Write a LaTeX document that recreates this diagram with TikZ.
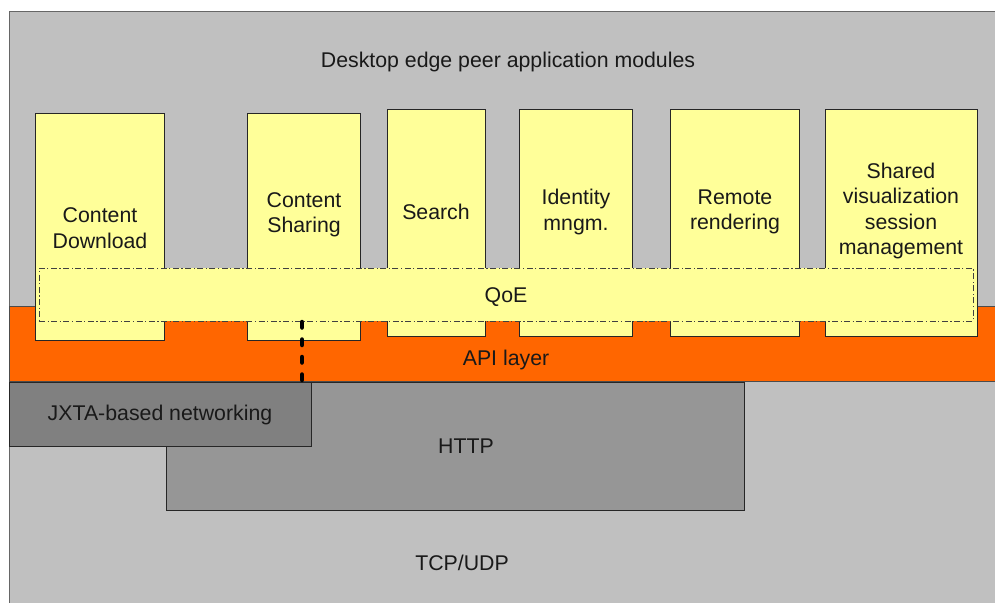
\documentclass[tikz,border=0pt]{standalone}
\usepackage{fontspec}
\setmainfont{Liberation Sans}
\usetikzlibrary{fit}
\definecolor{bggray}{HTML}{C0C0C0}
\definecolor{apiorange}{HTML}{FF6600}
\definecolor{modyellow}{HTML}{FFFF99}
\definecolor{jxtagray}{HTML}{808080}
\definecolor{httpgray}{HTML}{969696}
\begin{document}
\begin{tikzpicture}[x=1pt,y=-1pt,
  lay/.style={draw=black!85, line width=0.8pt, inner sep=0pt},
  modbox/.style={lay, fill=modyellow},
  lbl/.style={font=\fontsize{21.3}{25.5}\selectfont, align=center, inner sep=0pt, text=black!90, yshift=-2pt}]
\useasboundingbox (0,0) rectangle (995,602);
\fill[white] (0,0) rectangle (995,602);
% layers
\node[lay, draw=black!60, fill=bggray, fit={(9,11)(998,605)}] (tcp) {};
\node[lay, draw=black!70, fill=apiorange, fit={(9,306)(998,381)}] (api) {};
\node[lay, fill=httpgray, fit={(166,382)(744,510)}] (http) {};
\node[lay, fill=jxtagray, fit={(9,382)(311,446)}] (jxta) {};
% modules
\node[modbox, fit={(35,113)(164,340)}] (cd) {};
\node[modbox, fit={(247,113)(360,340)}] (cs) {};
\node[modbox, fit={(387,109)(485,336)}] (search) {};
\node[modbox, fit={(519,109)(632,336)}] (ident) {};
\node[modbox, fit={(670,109)(799,336)}] (remote) {};
\node[modbox, fit={(825,109)(977,336)}] (shared) {};
% QoE
\node[draw=black!75, line width=0.8pt, dash pattern=on 6pt off 2.5pt on 1.2pt off 2.5pt, fill=modyellow, inner sep=0pt, fit={(39,268)(973,321)}] (qoe) {};
% texts
\node[lbl] at (508,60) {Desktop edge peer application modules};
\node[lbl] at (100,226) {Content\\Download};
\node[lbl] at (304,213) {Content\\Sharing};
\node[lbl] at (436,210) {Search};
\node[lbl] at (576,210) {Identity\\mngm.};
\node[lbl] at (735,210) {Remote\\rendering};
\node[lbl] at (901,209) {Shared\\visualization\\session\\management};
\node[lbl] at (506,295) {QoE};
\node[lbl] at (506,358) {API layer};
\node[lbl] at (160,413) {JXTA-based networking};
\node[lbl] at (466,444) {HTTP};
\node[lbl] at (462,561) {TCP/UDP};
% dotted link
\coordinate (linktop) at (302,322);
\coordinate (linkbot) at (302,381);
\draw[line width=4.5pt, line cap=round, dash pattern=on 5.5pt off 12pt, black] (linktop) -- (linkbot);
\end{tikzpicture}
\end{document}
